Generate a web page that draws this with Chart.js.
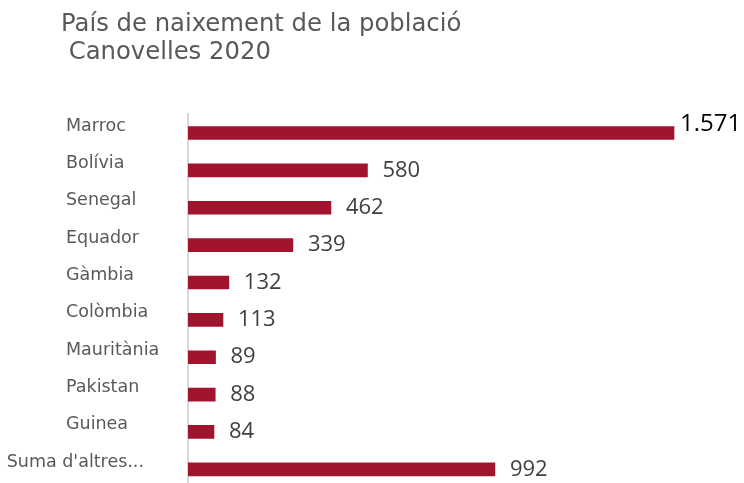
<!DOCTYPE html>
<html>
<head>
<meta charset="utf-8">
<script src="https://cdn.jsdelivr.net/npm/chart.js@4"></script>
<style>
html,body{margin:0;padding:0;background:#fff;overflow:hidden;}
#wrap{position:relative;width:744px;height:488px;}
</style>
</head>
<body>
<div id="wrap"><canvas id="c"></canvas></div>
<script>
const titleLines = ["País de naixement de la població", " Canovelles 2020"];
const categories = ["Marroc", "Bolívia", "Senegal", "Equador", "Gàmbia", "Colòmbia", "Mauritània", "Pakistan", "Guinea", "Suma d'altres..."];
const values = [1571, 580, 462, 339, 132, 113, 89, 88, 84, 992];

function fmt(v) {
  return String(v).replace(/\B(?=(\d{3})+(?!\d))/g, '.');
}

const labelPlugin = {
  id: 'customLabels',
  afterDatasetsDraw(chart) {
    const ctx = chart.ctx;
    const ys = chart.scales.y;
    ctx.save();
    ctx.font = '17.5px "DejaVu Sans"';
    ctx.fillStyle = '#595959';
    ctx.textBaseline = 'alphabetic';
    categories.forEach((c, i) => {
      const y = ys.getPixelForValue(i) - 2.5;
      if (i === categories.length - 1) {
        ctx.textAlign = 'right';
        ctx.fillText(c, 144, y);
      } else {
        ctx.textAlign = 'left';
        ctx.fillText(c, 66, y);
      }
    });
    const meta = chart.getDatasetMeta(0);
    const maxV = Math.max(...values);
    ctx.textAlign = 'left';
    ctx.textBaseline = 'middle';
    meta.data.forEach((bar, i) => {
      const v = values[i];
      if (v === maxV) {
        ctx.font = '24px "Open Sans"';
        ctx.fillStyle = '#000000';
        ctx.fillText(fmt(v), bar.x + 6, bar.y - 9);
      } else {
        ctx.font = '22px "Open Sans"';
        ctx.fillStyle = '#404040';
        ctx.fillText(fmt(v), bar.x + 15, bar.y);
      }
    });
    ctx.restore();
  }
};

new Chart(document.getElementById('c'), {
  type: 'bar',
  data: {
    labels: categories,
    datasets: [{
      data: values,
      backgroundColor: '#a0142e',
      borderWidth: 0,
      barThickness: 13
    }]
  },
  options: {
    indexAxis: 'y',
    responsive: true,
    maintainAspectRatio: false,
    animation: false,
    layout: { padding: { left: 61, right: 14.6, top: 0, bottom: 0 } },
    plugins: {
      legend: { display: false },
      tooltip: { enabled: false },
      title: {
        display: true,
        text: titleLines,
        align: 'start',
        color: '#595959',
        font: { family: 'DejaVu Sans', size: 24.3, weight: 'normal', lineHeight: 1.13 },
        padding: { top: 11, bottom: 48.4 }
      }
    },
    scales: {
      x: {
        display: false,
        min: 0,
        max: 1750
      },
      y: {
        position: 'left',
        grid: { display: false },
        border: { display: true, color: '#d9d9d9', width: 2 },
        ticks: { display: false },
        afterFit(s) { s.width = 127; }
      }
    }
  },
  plugins: [labelPlugin]
});
</script>
</body>
</html>
